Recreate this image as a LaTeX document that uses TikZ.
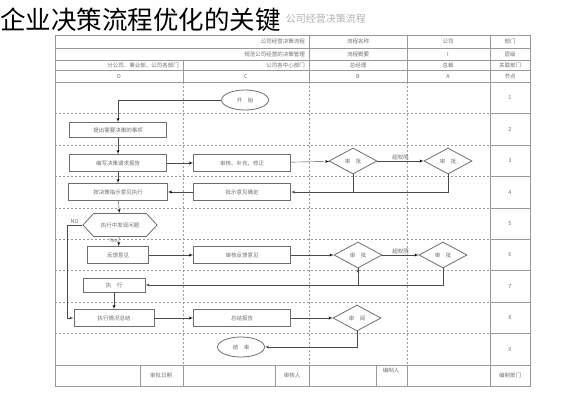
\documentclass[tikz,border=0pt]{standalone}
\usepackage{xcolor}
\usepackage{fontspec}
\setmainfont{Noto Sans CJK SC}
\usepackage{tikz}
\usetikzlibrary{arrows}
\usetikzlibrary{shapes.geometric,shapes.symbols}
\usetikzlibrary{positioning}
\definecolor{gridgray}{HTML}{9A9A9A}
\definecolor{boxgray}{HTML}{6E6E6E}
\definecolor{wiregray}{HTML}{4A4A4A}
\definecolor{textgray}{HTML}{707070}
\tikzset{
    stepbox/.style={
      rectangle,
      draw=boxgray, thick,
      minimum width=97pt,
      minimum height=17pt,
      inner sep=1pt,
      text=textgray,
      font=\fontsize{5.5}{6.5}\selectfont,
    },
    check/.style={
      diamond,
      aspect=1.8,
      draw=boxgray, thick,
      minimum width=48pt,
      minimum height=26pt,
      inner sep=0pt,
      text=textgray,
      font=\fontsize{5.5}{6.5}\selectfont,
    },
    term/.style={
      ellipse,
      draw=boxgray, thick,
      minimum width=47pt,
      minimum height=20pt,
      inner sep=0pt,
      text=textgray,
      font=\fontsize{5.5}{6.5}\selectfont,
    },
    ask/.style={
      signal,
      signal to=west and east,
      signal pointer angle=95,
      draw=boxgray, thick,
      minimum width=74pt,
      minimum height=23pt,
      inner sep=1pt,
      text=textgray,
      font=\fontsize{5.5}{6.5}\selectfont,
    },
    cell/.style={
      text=textgray,
      inner sep=1pt,
      font=\fontsize{5.5}{6.5}\selectfont,
    },
    wire/.style={draw=wiregray, thin},
    grid/.style={draw=gridgray, thin},
    lane/.style={draw=gridgray, thin, dashed, dash pattern=on 2pt off 2pt},
}

\begin{document}
\begin{tikzpicture}[>=latex', x=1pt, y=-1pt]

    \useasboundingbox[fill=white] (0,0) rectangle (565,400);

    % table frame
    \draw[grid] (55,35) rectangle (530,386);
    \foreach \y in {48,60,70,82,365}
      \draw[grid] (55,\y) -- (530,\y);
    \foreach \x in {309,407,490}
      \draw[grid] (\x,35) -- (\x,82);
    \draw[grid] (183,60) -- (183,82);
    \draw[grid] (490,82) -- (490,365);
    \foreach \x in {140,183,275,309,376,407,490}
      \draw[grid] (\x,365) -- (\x,386);

    % lanes and rows
    \foreach \x in {183,309,407}
      \draw[lane] (\x,82) -- (\x,365);
    \foreach \i in {1,...,8} {
      \draw[lane] (55,82+31.44*\i) -- (490,82+31.44*\i);
      \draw[grid] (490,82+31.44*\i) -- (530,82+31.44*\i);
    }
    \foreach \i in {1,...,9}
      \node[cell] (row\i) at (510,82+31.44*\i-15.72) {\i};

    % header
    \node[cell, anchor=east] (h11) at (306,41.5) {公司经营决策流程};
    \node[cell] (h12) at (358,41.5) {流程名称};
    \node[cell] (h13) at (448,41.5) {公司};
    \node[cell] (h14) at (510,41.5) {部门};
    \node[cell, anchor=east] (h21) at (306,54) {规范公司经营的决策管理};
    \node[cell] (h22) at (358,54) {流程概要};
    \node[cell] (h23) at (448,54) {I};
    \node[cell] (h24) at (510,54) {层级};
    \node[cell, anchor=east] (h31) at (180,65) {分公司、事业部、公司各部门};
    \node[cell, anchor=east] (h32) at (306,65) {公司各中心部门};
    \node[cell] (h33) at (358,65) {总经理};
    \node[cell] (h34) at (448,65) {总裁};
    \node[cell] (h35) at (510,65) {关联部门};
    \node[cell] (h41) at (119,76) {D};
    \node[cell] (h42) at (246,76) {C};
    \node[cell] (h43) at (358,76) {B};
    \node[cell] (h44) at (448,76) {A};
    \node[cell] (h45) at (510,76) {节点};

    % footer
    \node[cell] (f1) at (161,375.5) {审批日期};
    \node[cell] (f2) at (292,375.5) {审核人};
    \node[cell] (f3) at (391,370) {编制人};
    \node[cell] (f4) at (510,375.5) {编制部门};

    % titles
    \node[anchor=east, text=gray!60, inner sep=0pt,
      font=\fontsize{10}{11}\selectfont] (SHEET) at (366,19) {公司经营决策流程};
    \node[anchor=west, inner sep=0pt,
      font=\fontsize{25.5}{27}\selectfont] (TITLE) at (0,20) {企业决策流程优化的关键};

    % flow
    \node[term] (START) at (245,100) {开\quad 始};
    \node[stepbox, minimum height=15pt] (PROPOSE) at (118,130) {提出需要决策的事项};
    \node[stepbox] (REPORT) at (118,163) {编写决策请求报告};
    \node[stepbox] (REVISE) at (242,163) {审核、补充、修正};
    \node[check] (CHKB) at (353,161) {审\quad 批};
    \node[check] (CHKA) at (448,161) {审\quad 批};
    \node[stepbox] (CONFIRM) at (242,192) {批示意见确定};
    \node[stepbox, minimum width=99pt] (EXEC) at (118,192) {按决策指示意见执行};
    \node[ask] (ISSUE) at (120,225) {执行中发现问题};
    \node[stepbox, minimum width=61pt] (FEEDBACK) at (118,255) {反馈意见};
    \node[stepbox] (REVIEWFB) at (242,255) {审核反馈意见};
    \node[check] (CHKB2) at (358,255) {审\quad 批};
    \node[check] (CHKA2) at (443,255) {审\quad 批};
    \node[stepbox, minimum width=62pt, minimum height=14pt] (DO) at (114,285) {执\quad 行};
    \node[stepbox, minimum width=80pt] (SUMUP) at (114,318) {执行情况总结};
    \node[stepbox] (SUMREP) at (242,318) {总结报告};
    \node[check] (READ) at (357,318) {审\quad 阅};
    \node[term] (END) at (241,347) {结\quad 束};
    \coordinate (NOBEND) at (67,225);

    \path[wire, ->]
    (START.west) edge[-] (START.west -| PROPOSE)
    (START.west -| PROPOSE) edge (PROPOSE.north)
    (PROPOSE) edge (REPORT)
    (REPORT) edge (REVISE)
    (REPORT) edge (EXEC)
    (REVISE) edge (CHKB)
    (CHKB) edge node[cell, above] {超权限} (CHKA)
    (CHKB.south) edge[-] (CHKB.south |- CONFIRM)
    (CONFIRM) edge (EXEC)
    (EXEC) edge (ISSUE)
    (ISSUE) edge node[cell, pos=0.35, left] {Yes} (FEEDBACK)
    (ISSUE.west) edge[-] node[cell, above] {NO} (NOBEND)
    (FEEDBACK) edge (REVIEWFB)
    (REVIEWFB) edge (CHKB2)
    (CHKB2) edge node[cell, above] {超权限} (CHKA2)
    (CHKB2.south) edge[-] (CHKB2.south |- DO)
    (DO) edge (SUMUP)
    (SUMUP) edge (SUMREP)
    (SUMREP) edge (READ);

    \draw[wire, ->] (CHKA.south) |- (CONFIRM.east);
    \draw[wire, ->] (CHKA2.south) |- (DO.east);
    \draw[wire, ->] (NOBEND) |- (SUMUP.west);
    \draw[wire, ->] (READ.south) |- (END.east);

\end{tikzpicture}
\end{document}
